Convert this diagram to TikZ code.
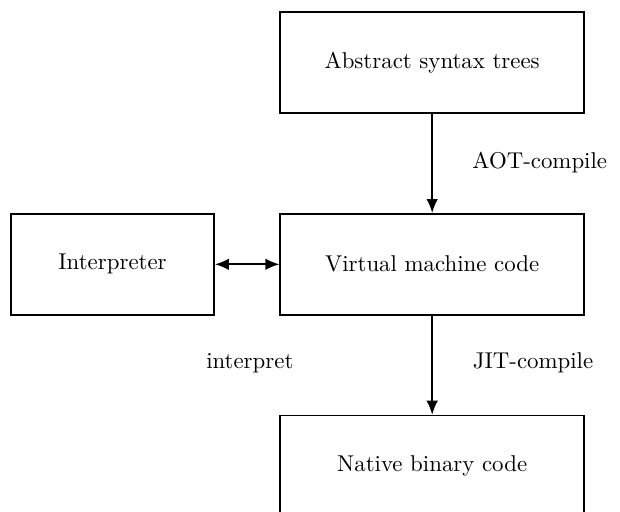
\documentclass[tikz,border=0pt]{standalone}
\usepackage{tikz}
\usetikzlibrary{arrows.meta}
\usetikzlibrary{positioning}

\begin{document}
\begin{tikzpicture}[node distance=1.63cm,every node/.style={font=\fontsize{10.7}{13}\selectfont},box/.style={draw,thick,rectangle,minimum width=5cm,minimum height=1.66cm,inner sep=0pt},>={Latex[length=2.3mm,width=1.9mm]}]
  \useasboundingbox (0,0) rectangle (10.2,-8.42);
  \node[box] (ast) at (7.11,-1.03) {Abstract syntax trees};
  \node[box,below=of ast] (vm) {Virtual machine code};
  \node[box,below=of vm] (nat) {Native binary code};
  \node[box,minimum width=3.34cm,left=1.06cm of vm] (int) {Interpreter};
  
  \node (aot) at (8.88,-2.68) {AOT-compile};
  \node (jit) at (8.77,-5.97) {JIT-compile};
  \node (ip) at (4.11,-5.97) {interpret};
  
  \draw[thick,->](ast)--(vm);
  \draw[thick,->](vm)--(nat);
  \draw[thick,<->](int)--(vm);
\end{tikzpicture}
\end{document}
